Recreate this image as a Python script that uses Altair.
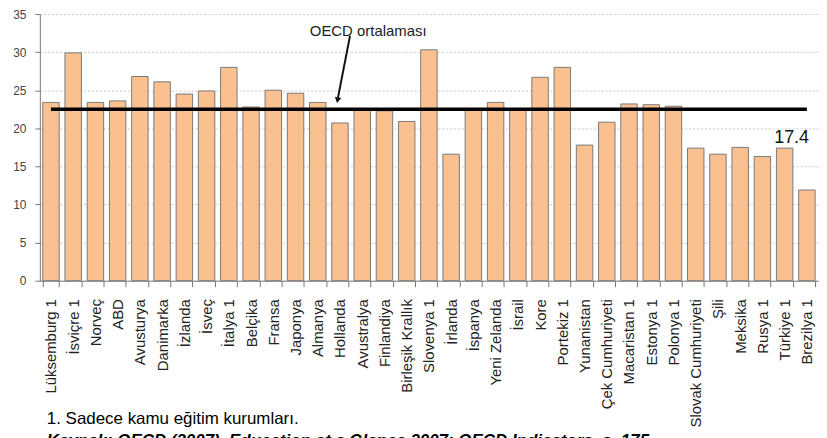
import altair as alt
import pandas as pd

countries = ["Lüksemburg 1", "İsviçre 1", "Norveç", "ABD", "Avusturya", "Danimarka",
             "İzlanda", "İsveç", "İtalya 1", "Belçika", "Fransa", "Japonya", "Almanya",
             "Hollanda", "Avustralya", "Finlandiya", "Birleşik Krallık", "Slovenya 1",
             "İrlanda", "İspanya", "Yeni Zelanda", "İsrail", "Kore", "Portekiz 1",
             "Yunanistan", "Çek Cumhuriyeti", "Macaristan 1", "Estonya 1", "Polonya 1",
             "Slovak Cumhuriyeti", "Şili", "Meksika", "Rusya 1", "Türkiye 1", "Brezilya 1"]
values = [23.4, 29.9, 23.4, 23.6, 26.8, 26.1, 24.5, 24.9, 28.0, 22.8, 25.0, 24.6, 23.4,
          20.7, 22.6, 22.3, 20.9, 30.3, 16.6, 22.5, 23.4, 22.4, 26.7, 28.0, 17.8, 20.8,
          23.2, 23.1, 22.9, 17.4, 16.6, 17.5, 16.3, 17.4, 11.9]
y_ticks = [0, 5, 10, 15, 20, 25, 30, 35]
oecd_mean = 22.5
oecd_label = "OECD ortalaması"
highlight = "Türkiye 1"
footnote1 = "1. Sadece kamu eğitim kurumları."
footnote2 = "Kaynak: OECD (2007), Education at a Glance 2007: OECD Indicators, s. 175."

FONT = "Liberation Sans"

df = pd.DataFrame({"ulke": countries, "deger": values})
mean_df = pd.DataFrame({"ulke": [countries[0]], "ulke2": [countries[-1]], "deger": [oecd_mean]})
hl_df = df[df["ulke"] == highlight]
one = pd.DataFrame({"a": [0]})

x_enc = alt.X(
    "ulke:N", sort=countries, title=None,
    scale=alt.Scale(domain=countries, paddingInner=0.26, paddingOuter=0.13),
    axis=alt.Axis(labelAngle=-90, labelFontSize=15, labelColor="#222", labelFont=FONT,
                  tickBand="extent", tickSize=6, tickColor="#777", domainColor="#777",
                  labelPadding=12, grid=False, labelLimit=300),
)
y_enc = alt.Y(
    "deger:Q", title=None,
    scale=alt.Scale(domain=[0, 35], nice=False),
    axis=alt.Axis(values=y_ticks, labelFontSize=12, labelColor="#444", labelFont=FONT,
                  tickSize=5, tickColor="#777", domainColor="#777", labelPadding=9,
                  gridDash=[2, 2], gridColor="#c8c8c8"),
)

bars = alt.Chart(df).mark_bar(fill="#FAC090", stroke="#7a7a7a", strokeWidth=1).encode(
    x=x_enc, y=y_enc)

mean_rule = alt.Chart(mean_df).mark_rule(color="#000000", strokeWidth=3.4).encode(
    x=x_enc, x2=alt.X2("ulke2"), y=y_enc)

hl_text = alt.Chart(hl_df).mark_text(
    baseline="bottom", dy=-1, dx=7, fontSize=18, font=FONT, color="#111"
).encode(x=x_enc, y=y_enc, text=alt.Text("deger:Q", format=".1f"))

arrow_line = alt.Chart(one).mark_rule(color="#111", strokeWidth=2).encode(
    x=alt.value(311.7), y=alt.value(22), x2=alt.value(299.6), y2=alt.value(84))
arrow_head = alt.Chart(one).mark_point(
    shape="triangle-down", filled=True, size=45, angle=11, color="#111", opacity=1
).encode(x=alt.value(299.2), y=alt.value(86.5))

oecd_text = alt.Chart(one).mark_text(
    fontSize=15, font=FONT, color="#222", baseline="middle", align="center"
).encode(x=alt.value(330), y=alt.value(17), text=alt.value(oecd_label))

foot1 = alt.Chart(one).mark_text(
    fontSize=17, font=FONT, color="#000", baseline="alphabetic", align="left"
).encode(x=alt.value(7), y=alt.value(412), text=alt.value(footnote1))

foot2 = alt.Chart(one).mark_text(
    fontSize=17, font=FONT, color="#000", baseline="alphabetic", align="left",
    fontWeight="bold", fontStyle="italic"
).encode(x=alt.value(7), y=alt.value(434), text=alt.value(footnote2))

chart = alt.layer(bars, mean_rule, hl_text, arrow_line, arrow_head, oecd_text, foot1, foot2).properties(
    width=782, height=268,
    padding={"left": 32, "top": 5, "right": 1, "bottom": 157},
    autosize=alt.AutoSizeParams(type="none"),
).configure_view(stroke=None)

chart.save("out.html", embed_options={"renderer": "svg", "actions": False})
